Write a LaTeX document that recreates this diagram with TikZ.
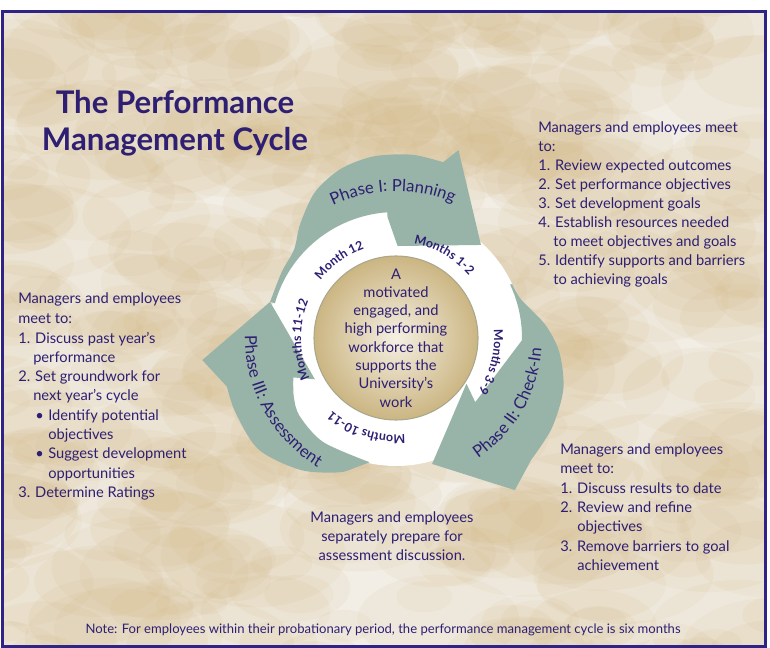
\documentclass[tikz,border=0pt]{standalone}
\usepackage{fontspec}
\setmainfont{Lato}
\usetikzlibrary{decorations.text}
\definecolor{ink}{HTML}{2E1F73}
\definecolor{sage}{HTML}{98B4A8}
\definecolor{parch}{HTML}{F2EEE6}
\definecolor{tanblot}{HTML}{CFAF74}
\definecolor{framec}{HTML}{2F2385}
\definecolor{cream}{HTML}{F5F0E3}
\definecolor{beigeedge}{HTML}{CBB582}
\definecolor{circedge}{HTML}{A9A88C}
\newcommand\pmPhase{\fontsize{12.5}{14}\selectfont}
\newcommand\pmMonth{\fontsize{9.3}{11}\selectfont\bfseries}
\begin{document}
\begin{tikzpicture}[x=0.75pt,y=-0.75pt,
  body/.style={font=\fontsize{11}{13}\selectfont, text=ink, inner sep=0pt},
  ctr/.style={font=\fontsize{11}{12}\selectfont, text=ink, inner sep=0pt, anchor=base},
  ttl/.style={font=\fontsize{23.4}{26}\selectfont\bfseries, text=ink, inner sep=0pt, anchor=base},
  arclabel/.style={decorate, decoration={text along path, text align=center, text color=ink}}]
\useasboundingbox (0,0) rectangle (770,648);
\fill[white] (0,0) rectangle (770,648);
\fill[parch] (2,12) rectangle (765,646);
\begin{scope}
\clip (2,12) rectangle (765,646);
\pgfmathsetseed{11}
\foreach \i in {1,...,420}{
  \pgfmathsetmacro{\xx}{rnd*800-15}
  \pgfmathsetmacro{\yy}{rnd*670-5}
  \pgfmathsetmacro{\rr}{10+rnd*42}
  \fill[tanblot, opacity=0.085] (\xx,\yy) ellipse[x radius=1.8*\rr, y radius=\rr];
}
\end{scope}
\draw[framec, line width=2.25pt] (2,12) rectangle (765,646);

% ---- cycle ----
\begin{scope}[shift={(396,338)}]
\fill[white] (0,0) circle[radius=128];
% Phase I
\fill[sage] (-94:121) -- (-94:126) arc[start angle=-94, end angle=-164, radius=126]
  -- plot[smooth] coordinates {(-164:131) (-150:132) (-139:135) (-130:149) (-119:167) (-108:178) (-97:183) (-85:184) (-75:182)}
  -- (-71.6:198) -- (-47.6:126) -- (-89:92) -- cycle;
% Phase II
\fill[sage] (1:126) arc[start angle=1, end angle=-25, radius=126]
  -- plot[smooth] coordinates {(-25:128) (-17:131) (-5:150) (5:164) (17:175) (30:180) (42:182)}
  -- (52:193) -- (74:131) -- (33:84) -- (39:102) -- cycle;
% Phase III
\fill[sage] plot[smooth] coordinates {(-258:127) (-253:135) (-247:146) (-234:163) (-219:177) (-205:177) (-196:176)}
  -- (-186.5:195) -- (-164:131) -- (-207:91)
  -- plot[smooth] coordinates {(-201:110) (-210:118) (-219:124) (-235:127) (-258:127)} -- cycle;
% centre disc
\shade[inner color=cream, outer color=beigeedge] (0,0) circle[radius=82];
\draw[circedge, line width=0.8pt] (0,0) circle[radius=82];

% phase labels
\path[arclabel, decoration={text={|\pmPhase|Phase I: Planning}}]
  (-131:147) arc[start angle=-131, end angle=-51, radius=146];
\path[arclabel, decoration={text={|\pmPhase|Phase II: Check-In}}]
  (70:146) arc[start angle=70, end angle=-10, radius=146];
\path[arclabel, decoration={text={|\pmPhase|Phase III: Assessment}}]
  (-165:151) arc[start angle=-165, end angle=-253, radius=151];
% month labels
\path[arclabel, decoration={text={|\pmMonth|Month 12}}]
  (-166:95) arc[start angle=-166, end angle=-86, radius=95];
\path[arclabel, decoration={text={|\pmMonth|Months 1-2}}]
  (-100:96) arc[start angle=-100, end angle=-20, radius=96];
\path[arclabel, decoration={text={|\pmMonth|Months 3-9}}]
  (-26:98) arc[start angle=-26, end angle=54, radius=98];
\path[arclabel, decoration={text={|\pmMonth|Months 10-11}}]
  (-292:97) arc[start angle=-292, end angle=-212, radius=97];
\path[arclabel, decoration={text={|\pmMonth|Months 11-12}}]
  (-221:95) arc[start angle=-221, end angle=-141, radius=95];
\end{scope}

% centre text
\node[ctr] (c1) at (396,280) {A};
\node[ctr] (c2) at (396,297.3) {motivated};
\node[ctr] (c3) at (396,315.6) {engaged, and};
\node[ctr] (c4) at (396,333.9) {high performing};
\node[ctr] (c5) at (396,352.2) {workforce that};
\node[ctr] (c6) at (396,370.5) {supports the};
\node[ctr] (c7) at (396,388.8) {University’s};
\node[ctr] (c8) at (396,407.1) {work};

% title
\node[ttl] (t1) at (175,114) {The Performance};
\node[ttl] (t2) at (175,151) {Management Cycle};

% right block
\node[body, anchor=base west] (r1) at (538,133) {Managers and employees meet};
\node[body, anchor=base west] (r2) at (538,152) {to:};
\node[body, anchor=base west] (r3) at (538,171) {1. Review expected outcomes};
\node[body, anchor=base west] (r4) at (538,190) {2. Set performance objectives};
\node[body, anchor=base west] (r5) at (538,209) {3. Set development goals};
\node[body, anchor=base west] (r6) at (538,228) {4. Establish resources needed};
\node[body, anchor=base west] (r7) at (553,247) {to meet objectives and goals};
\node[body, anchor=base west] (r8) at (538,266) {5. Identify supports and barriers};
\node[body, anchor=base west] (r9) at (553,285) {to achieving goals};

% left block
\node[body, anchor=base west] (l1) at (18,304) {Managers and employees};
\node[body, anchor=base west] (l2) at (18,323) {meet to:};
\node[body, anchor=base west] (l3) at (18,343) {1. Discuss past year’s};
\node[body, anchor=base west] (l4) at (33,362) {performance};
\node[body, anchor=base west] (l5) at (18,381) {2. Set groundwork for};
\node[body, anchor=base west] (l6) at (33,400) {next year’s cycle};
\node[body, anchor=base west] (l7b) at (35,420) {•};
\node[body, anchor=base west] (l7) at (48,420) {Identify potential};
\node[body, anchor=base west] (l8) at (48,439) {objectives};
\node[body, anchor=base west] (l9b) at (35,458) {•};
\node[body, anchor=base west] (l9) at (48,458) {Suggest development};
\node[body, anchor=base west] (l10) at (48,478) {opportunities};
\node[body, anchor=base west] (l11) at (18,497) {3. Determine Ratings};

% bottom right block
\node[body, anchor=base west] (b1) at (560,454) {Managers and employees};
\node[body, anchor=base west] (b2) at (560,473) {meet to:};
\node[body, anchor=base west] (b3) at (560,493) {1. Discuss results to date};
\node[body, anchor=base west] (b4) at (560,512) {2. Review and refine};
\node[body, anchor=base west] (b5) at (577,531) {objectives};
\node[body, anchor=base west] (b6) at (560,551) {3. Remove barriers to goal};
\node[body, anchor=base west] (b7) at (577,570) {achievement};

% bottom centre block
\node[body, anchor=base] (s1) at (392,522) {Managers and employees};
\node[body, anchor=base] (s2) at (392,541) {separately prepare for};
\node[body, anchor=base] (s3) at (392,560) {assessment discussion.};

% note
\node[body, anchor=base, font=\fontsize{9.8}{11}\selectfont] (note) at (383,633) {Note: For employees within their probationary period, the performance management cycle is six months};
\end{tikzpicture}
\end{document}
